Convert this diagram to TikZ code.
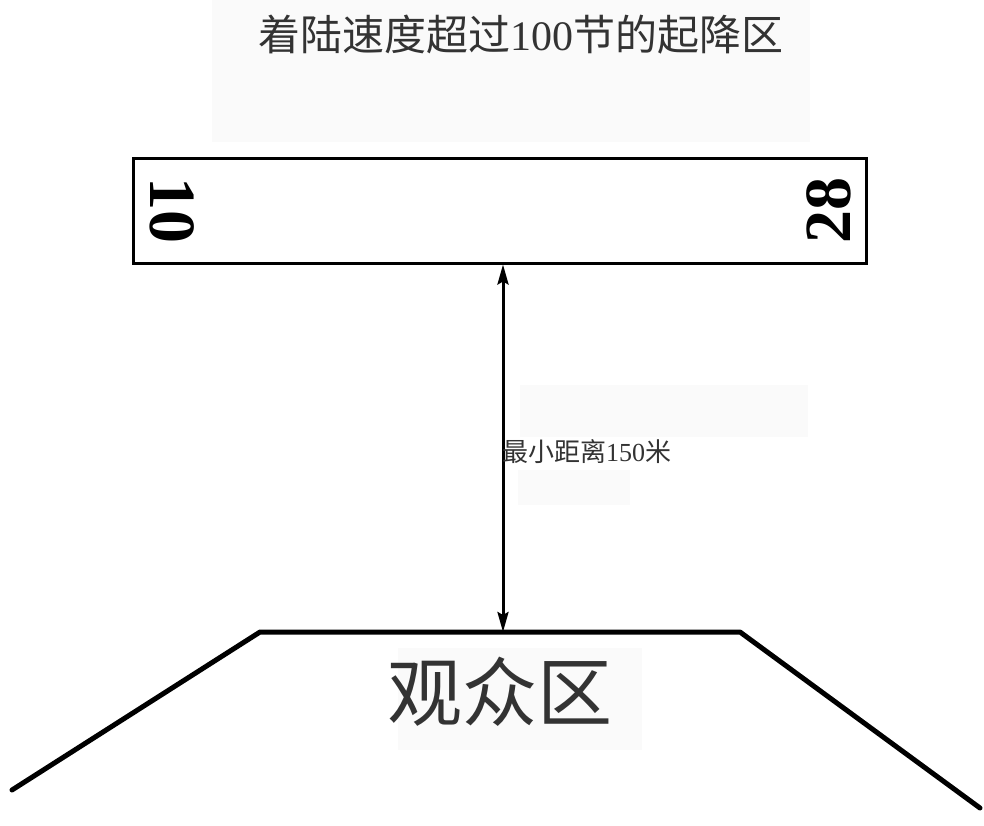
\documentclass[tikz,border=0pt]{standalone}
\usepackage{fontspec}
\newfontfamily\cjk{Noto Sans CJK SC}
\newfontfamily\serif{Liberation Serif}
\usetikzlibrary{arrows.meta}
\tikzset{
  bgbox/.style={fill=black!2},
  cjktext/.style={text=black!80, inner sep=0pt},
  rwnum/.style={font=\serif\bfseries\fontsize{66}{66}\selectfont, inner sep=0pt},
}
\begin{document}
\begin{tikzpicture}[x=1pt,y=-1pt]
\useasboundingbox (0,0) rectangle (984,825);
\fill[white] (0,0) rectangle (984,825);
% faint background patches
\fill[bgbox] (212,0) rectangle (810,142);
\fill[bgbox] (520,385) rectangle (808,437);
\fill[bgbox] (518,470) rectangle (630,505);
\fill[bgbox] (398,648) rectangle (642,750);
% title
\node[cjktext, font=\cjk\fontsize{42}{42}\selectfont] (title) at (521,35) {着陆速度超过{\serif 100}节的起降区};
% runway
\node[draw, line width=3pt, minimum width=733pt, minimum height=105pt, inner sep=0pt] (runway) at (499.5,210.5) {};
\node[rwnum, rotate=-90] (r10) at (172,210) {10};
\node[rwnum, rotate=90] (r28) at (829,210) {28};
% spectator line
\coordinate (lb) at (12,790);
\coordinate (lt) at (260,632);
\coordinate (rt) at (740,632);
\coordinate (rb) at (980,808);
\draw[line width=5pt, line join=round, line cap=round] (lb) -- (lt) -- (rt) -- (rb);
% distance arrow
\coordinate (sa) at (503,632);
\draw[line width=3pt, {Stealth[length=20pt,width=11pt,inset=3pt]}-{Stealth[length=20pt,width=11pt,inset=3pt]}] (runway.south -| sa) -- (sa);
\node[cjktext, anchor=west, font=\cjk\fontsize{26}{26}\selectfont] (dist) at (502,452) {最小距离{\serif 150}米};
% spectator label
\node[cjktext, font=\cjk\fontsize{75}{75}\selectfont] (spect) at (500,692) {观众区};
\end{tikzpicture}
\end{document}
